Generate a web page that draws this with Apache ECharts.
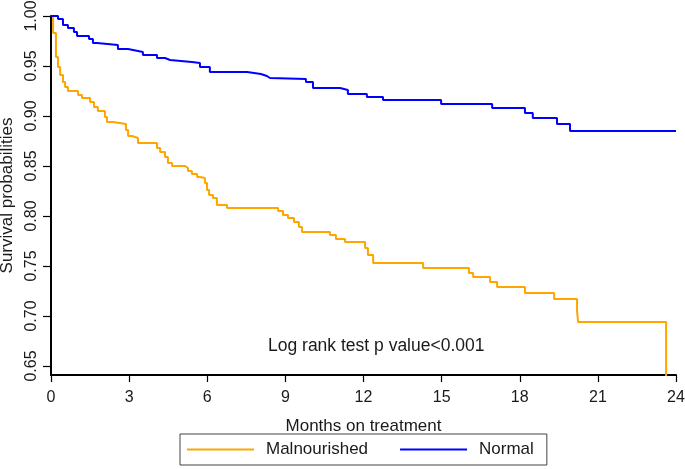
<!DOCTYPE html>
<html>
<head>
<meta charset="utf-8">
<script src="https://cdn.jsdelivr.net/npm/echarts@6/dist/echarts.min.js"></script>
<style>html,body{margin:0;padding:0;background:#fff;}#chart{width:685px;height:469px;}</style>
</head>
<body>
<div id="chart"></div>
<script>
// ---- data ----
var seriesNames = ['Malnourished', 'Normal'];
var malTime = [0, 0.08, 0.19, 0.27, 0.35, 0.46, 0.54, 0.65, 1.04, 1.19, 1.50, 1.65, 1.80, 2.07, 2.15, 2.38, 2.88, 2.96, 3.11, 3.34, 4.07, 4.19, 4.38, 4.49, 4.65, 5.15, 5.26, 5.41, 5.61, 5.72, 5.91, 5.99, 6.07, 6.22, 6.37, 6.76, 8.72, 8.91, 9.10, 9.33, 9.52, 9.64, 10.71, 10.94, 11.29, 12.06, 12.17, 12.37, 14.29, 16.05, 16.21, 16.86, 17.13, 18.20, 19.32, 20.20, 20.24, 23.62];
var malSurv = [1.000, 0.983, 0.959, 0.949, 0.941, 0.934, 0.929, 0.925, 0.921, 0.918, 0.914, 0.909, 0.905, 0.899, 0.894, 0.892, 0.886, 0.880, 0.878, 0.873, 0.868, 0.864, 0.859, 0.853, 0.850, 0.848, 0.845, 0.842, 0.839, 0.838, 0.833, 0.826, 0.821, 0.818, 0.811, 0.808, 0.805, 0.801, 0.798, 0.794, 0.789, 0.784, 0.781, 0.777, 0.774, 0.768, 0.761, 0.753, 0.748, 0.743, 0.739, 0.734, 0.729, 0.723, 0.717, 0.705, 0.694, 0.000];
var normTime = [0, 0.27, 0.46, 0.65, 0.88, 1.00, 1.46, 1.61, 1.77, 2.57, 2.96, 3.34, 3.53, 4.07, 4.38, 4.57, 5.41, 5.72, 6.10, 7.53, 8.06, 8.29, 8.41, 9.79, 10.06, 11.10, 11.40, 12.13, 12.75, 14.98, 16.94, 18.20, 18.50, 19.43, 19.93, 24.00];
var normSurv = [1.000, 0.997, 0.991, 0.988, 0.984, 0.980, 0.977, 0.973, 0.971, 0.967, 0.965, 0.964, 0.961, 0.958, 0.956, 0.954, 0.953, 0.949, 0.944, 0.942, 0.940, 0.938, 0.937, 0.934, 0.928, 0.926, 0.922, 0.919, 0.916, 0.912, 0.908, 0.903, 0.898, 0.892, 0.885, 0.885];
var xTicks = [0, 3, 6, 9, 12, 15, 18, 21, 24];
var yTicks = [0.65, 0.70, 0.75, 0.80, 0.85, 0.90, 0.95, 1.00];
var annotation = 'Log rank test p value<0.001';

function zip(a, b) { return a.map(function (v, i) { return [v, b[i]]; }); }

var FONT = 'Liberation Sans, Arial, sans-serif';
var TXT = '#1a1a1a';
var chart = echarts.init(document.getElementById('chart'), null, { renderer: 'canvas' });
chart.setOption({
  animation: false,
  backgroundColor: '#fff',
  grid: { left: 51, right: 9, top: 16, bottom: 94, containLabel: false, outerBoundsMode: 'none' },
  xAxis: {
    type: 'value', min: 0, max: 24, interval: 3,
    name: 'Months on treatment', nameLocation: 'middle', nameGap: 43,
    nameTextStyle: { fontFamily: FONT, fontSize: 17, color: TXT },
    axisLine: { show: true, onZero: false, lineStyle: { color: '#000', width: 2 } },
    axisTick: { show: true, length: 7, lineStyle: { color: '#000', width: 1.2 }, customValues: xTicks },
    axisLabel: { fontFamily: FONT, fontSize: 16, color: TXT, margin: 15, customValues: xTicks },
    splitLine: { show: false }
  },
  yAxis: {
    type: 'value', min: 0.641, max: 1.0,
    name: 'Survival probabilities', nameLocation: 'middle', nameGap: 31,
    nameTextStyle: { fontFamily: FONT, fontSize: 17, color: TXT },
    axisLine: { show: true, onZero: false, lineStyle: { color: '#000', width: 2 } },
    axisTick: { show: true, length: 8, lineStyle: { color: '#000', width: 1.2 }, customValues: yTicks },
    axisLabel: { fontFamily: FONT, fontSize: 16, color: TXT, margin: 11, rotate: 90,
      customValues: yTicks, formatter: function (v) { return v.toFixed(2); } },
    splitLine: { show: false }
  },
  legend: {
    left: 180, top: 434, orient: 'horizontal',
    padding: [7, 13, 7, 7], itemGap: 32,
    borderColor: '#444', borderWidth: 1,
    itemWidth: 67, itemHeight: 2, icon: 'rect',
    textStyle: { fontFamily: FONT, fontSize: 17, color: TXT, padding: [0, 0, 0, 7] },
    data: seriesNames
  },
  graphic: [{
    type: 'text', left: 268, top: 337,
    style: { text: annotation, font: '17.5px ' + FONT, fill: TXT }
  }],
  series: [{
    name: seriesNames[0], type: 'line', step: 'end', showSymbol: false, clip: true,
    color: '#FFA500', lineStyle: { color: '#FFA500', width: 2 },
    data: zip(malTime, malSurv)
  }, {
    name: seriesNames[1], type: 'line', step: 'end', showSymbol: false, clip: true,
    color: '#0000FF', lineStyle: { color: '#0000FF', width: 2 },
    data: zip(normTime, normSurv)
  }]
});
</script>
</body>
</html>
